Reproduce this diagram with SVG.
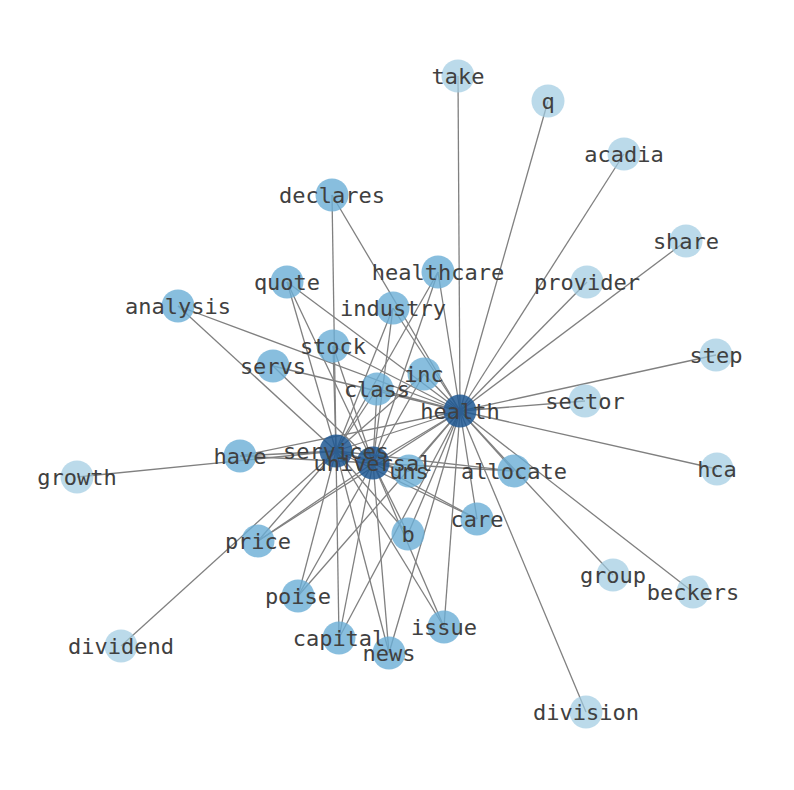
<svg xmlns="http://www.w3.org/2000/svg" width="794" height="790" viewBox="0 0 794 790">
<style>
.e{stroke:#808080;stroke-width:1.3;fill:none}
.d{fill:#1f5893;fill-opacity:0.85}
.m{fill:#6aaed6;fill-opacity:0.8}
.l{fill:#9ecae1;fill-opacity:0.7}
text{font-family:"DejaVu Sans Mono","Liberation Mono",monospace;font-size:22px;fill:#404040;text-anchor:middle;dominant-baseline:central}
</style>
<rect width="794" height="790" fill="#fff"/>
<g id="edges">
<line class="e" x1="460" y1="411" x2="336" y2="451"/>
<line class="e" x1="460" y1="411" x2="373" y2="463"/>
<line class="e" x1="336" y1="451" x2="373" y2="463"/>
<line class="e" x1="460" y1="411" x2="458" y2="76"/>
<line class="e" x1="460" y1="411" x2="548" y2="101"/>
<line class="e" x1="460" y1="411" x2="624" y2="154"/>
<line class="e" x1="460" y1="411" x2="686" y2="241"/>
<line class="e" x1="460" y1="411" x2="587" y2="282"/>
<line class="e" x1="460" y1="411" x2="716" y2="355"/>
<line class="e" x1="460" y1="411" x2="585" y2="401"/>
<line class="e" x1="460" y1="411" x2="717" y2="469"/>
<line class="e" x1="460" y1="411" x2="613" y2="575"/>
<line class="e" x1="460" y1="411" x2="693" y2="592"/>
<line class="e" x1="460" y1="411" x2="586" y2="712"/>
<line class="e" x1="336" y1="451" x2="77" y2="477"/>
<line class="e" x1="336" y1="451" x2="121" y2="646"/>
<line class="e" x1="460" y1="411" x2="332" y2="195"/>
<line class="e" x1="336" y1="451" x2="332" y2="195"/>
<line class="e" x1="460" y1="411" x2="178" y2="306"/>
<line class="e" x1="336" y1="451" x2="178" y2="306"/>
<line class="e" x1="460" y1="411" x2="273" y2="366"/>
<line class="e" x1="373" y1="463" x2="273" y2="366"/>
<line class="e" x1="460" y1="411" x2="333" y2="346"/>
<line class="e" x1="336" y1="451" x2="333" y2="346"/>
<line class="e" x1="373" y1="463" x2="333" y2="346"/>
<line class="e" x1="460" y1="411" x2="287" y2="282"/>
<line class="e" x1="336" y1="451" x2="287" y2="282"/>
<line class="e" x1="373" y1="463" x2="287" y2="282"/>
<line class="e" x1="460" y1="411" x2="438" y2="272"/>
<line class="e" x1="336" y1="451" x2="438" y2="272"/>
<line class="e" x1="373" y1="463" x2="438" y2="272"/>
<line class="e" x1="460" y1="411" x2="393" y2="308"/>
<line class="e" x1="336" y1="451" x2="393" y2="308"/>
<line class="e" x1="373" y1="463" x2="393" y2="308"/>
<line class="e" x1="460" y1="411" x2="424" y2="374"/>
<line class="e" x1="336" y1="451" x2="424" y2="374"/>
<line class="e" x1="373" y1="463" x2="424" y2="374"/>
<line class="e" x1="460" y1="411" x2="377" y2="389"/>
<line class="e" x1="336" y1="451" x2="377" y2="389"/>
<line class="e" x1="373" y1="463" x2="377" y2="389"/>
<line class="e" x1="460" y1="411" x2="409" y2="471"/>
<line class="e" x1="336" y1="451" x2="409" y2="471"/>
<line class="e" x1="373" y1="463" x2="409" y2="471"/>
<line class="e" x1="460" y1="411" x2="514" y2="471"/>
<line class="e" x1="336" y1="451" x2="514" y2="471"/>
<line class="e" x1="373" y1="463" x2="514" y2="471"/>
<line class="e" x1="460" y1="411" x2="477" y2="519"/>
<line class="e" x1="336" y1="451" x2="477" y2="519"/>
<line class="e" x1="373" y1="463" x2="477" y2="519"/>
<line class="e" x1="460" y1="411" x2="408" y2="534"/>
<line class="e" x1="336" y1="451" x2="408" y2="534"/>
<line class="e" x1="373" y1="463" x2="408" y2="534"/>
<line class="e" x1="460" y1="411" x2="258" y2="541"/>
<line class="e" x1="336" y1="451" x2="258" y2="541"/>
<line class="e" x1="373" y1="463" x2="258" y2="541"/>
<line class="e" x1="460" y1="411" x2="298" y2="596"/>
<line class="e" x1="336" y1="451" x2="298" y2="596"/>
<line class="e" x1="373" y1="463" x2="298" y2="596"/>
<line class="e" x1="460" y1="411" x2="339" y2="638"/>
<line class="e" x1="336" y1="451" x2="339" y2="638"/>
<line class="e" x1="373" y1="463" x2="339" y2="638"/>
<line class="e" x1="460" y1="411" x2="444" y2="627"/>
<line class="e" x1="336" y1="451" x2="444" y2="627"/>
<line class="e" x1="373" y1="463" x2="444" y2="627"/>
<line class="e" x1="460" y1="411" x2="389" y2="653"/>
<line class="e" x1="336" y1="451" x2="389" y2="653"/>
<line class="e" x1="373" y1="463" x2="389" y2="653"/>
<line class="e" x1="460" y1="411" x2="240" y2="456"/>
<line class="e" x1="336" y1="451" x2="240" y2="456"/>
<line class="e" x1="373" y1="463" x2="240" y2="456"/>
</g>
<g id="nodes">
<g id="n-take"><circle class="l" cx="458" cy="76" r="16.5"/></g>
<g id="n-q"><circle class="l" cx="548" cy="101" r="16.5"/></g>
<g id="n-acadia"><circle class="l" cx="624" cy="154" r="16.5"/></g>
<g id="n-share"><circle class="l" cx="686" cy="241" r="16.5"/></g>
<g id="n-provider"><circle class="l" cx="587" cy="282" r="16.5"/></g>
<g id="n-step"><circle class="l" cx="716" cy="355" r="16.5"/></g>
<g id="n-sector"><circle class="l" cx="585" cy="401" r="16.5"/></g>
<g id="n-hca"><circle class="l" cx="717" cy="469" r="16.5"/></g>
<g id="n-group"><circle class="l" cx="613" cy="575" r="16.5"/></g>
<g id="n-beckers"><circle class="l" cx="693" cy="592" r="16.5"/></g>
<g id="n-division"><circle class="l" cx="586" cy="712" r="16.5"/></g>
<g id="n-growth"><circle class="l" cx="77" cy="477" r="16.5"/></g>
<g id="n-dividend"><circle class="l" cx="121" cy="646" r="16.5"/></g>
<g id="n-declares"><circle class="m" cx="332" cy="195" r="16.5"/></g>
<g id="n-analysis"><circle class="m" cx="178" cy="306" r="16.5"/></g>
<g id="n-servs"><circle class="m" cx="273" cy="366" r="16.5"/></g>
<g id="n-stock"><circle class="m" cx="333" cy="346" r="16.5"/></g>
<g id="n-quote"><circle class="m" cx="287" cy="282" r="16.5"/></g>
<g id="n-healthcare"><circle class="m" cx="438" cy="272" r="16.5"/></g>
<g id="n-industry"><circle class="m" cx="393" cy="308" r="16.5"/></g>
<g id="n-inc"><circle class="m" cx="424" cy="374" r="16.5"/></g>
<g id="n-class"><circle class="m" cx="377" cy="389" r="16.5"/></g>
<g id="n-have"><circle class="m" cx="240" cy="456" r="16.5"/></g>
<g id="n-allocate"><circle class="m" cx="514" cy="471" r="16.5"/></g>
<g id="n-care"><circle class="m" cx="477" cy="519" r="16.5"/></g>
<g id="n-b"><circle class="m" cx="408" cy="534" r="16.5"/></g>
<g id="n-price"><circle class="m" cx="258" cy="541" r="16.5"/></g>
<g id="n-poise"><circle class="m" cx="298" cy="596" r="16.5"/></g>
<g id="n-capital"><circle class="m" cx="339" cy="638" r="16.5"/></g>
<g id="n-issue"><circle class="m" cx="444" cy="627" r="16.5"/></g>
<g id="n-news"><circle class="m" cx="389" cy="653" r="16.5"/></g>
<g id="n-uns"><circle class="m" cx="409" cy="471" r="16.5"/></g>
<g id="n-health"><circle class="d" cx="460" cy="411" r="16.5"/></g>
<g id="n-services"><circle class="d" cx="336" cy="451" r="16.5"/></g>
<g id="n-universal"><circle class="d" cx="373" cy="463" r="16.5"/></g>
</g>
<g id="labels">
<text x="458" y="76">take</text>
<text x="548" y="101">q</text>
<text x="624" y="154">acadia</text>
<text x="686" y="241">share</text>
<text x="587" y="282">provider</text>
<text x="716" y="355">step</text>
<text x="585" y="401">sector</text>
<text x="717" y="469">hca</text>
<text x="613" y="575">group</text>
<text x="693" y="592">beckers</text>
<text x="586" y="712">division</text>
<text x="77" y="477">growth</text>
<text x="121" y="646">dividend</text>
<text x="332" y="195">declares</text>
<text x="178" y="306">analysis</text>
<text x="273" y="366">servs</text>
<text x="333" y="346">stock</text>
<text x="287" y="282">quote</text>
<text x="438" y="272">healthcare</text>
<text x="393" y="308">industry</text>
<text x="424" y="374">inc</text>
<text x="377" y="389">class</text>
<text x="240" y="456">have</text>
<text x="514" y="471">allocate</text>
<text x="477" y="519">care</text>
<text x="408" y="534">b</text>
<text x="258" y="541">price</text>
<text x="298" y="596">poise</text>
<text x="339" y="638">capital</text>
<text x="444" y="627">issue</text>
<text x="389" y="653">news</text>
<text x="409" y="471">uns</text>
<text x="460" y="411">health</text>
<text x="336" y="451">services</text>
<text x="373" y="463">universal</text>
</g>
</svg>
